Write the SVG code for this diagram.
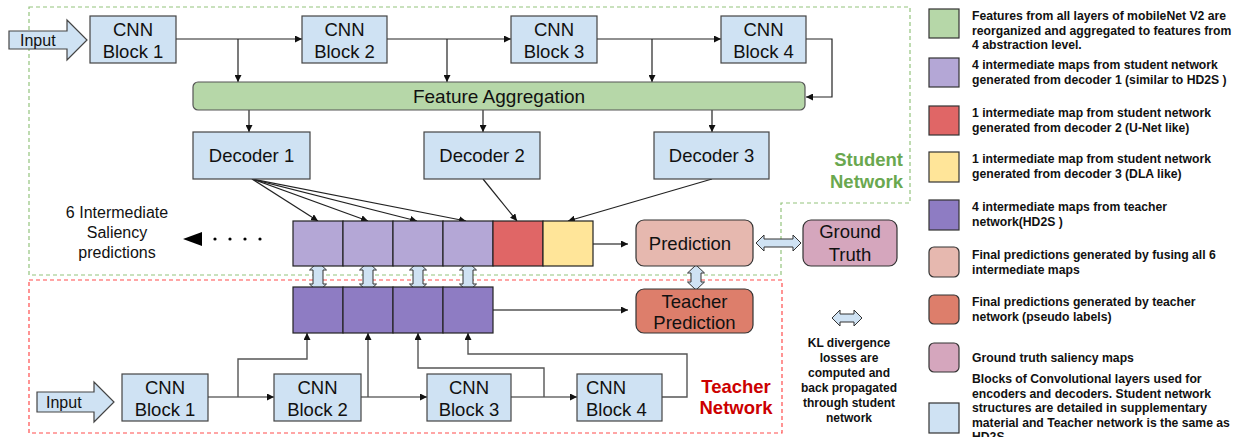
<svg xmlns="http://www.w3.org/2000/svg" width="1238" height="437" viewBox="0 0 1238 437">
<defs>
<style>
text{font-family:"Liberation Sans",Arial,sans-serif;fill:#111}
.lbl{font-size:18.5px;text-anchor:middle}
.blk{fill:#cfe2f3;stroke:#444;stroke-width:1.2}
.ln{fill:none;stroke:#222;stroke-width:1.2}
.gl{fill:none;stroke:#555;stroke-width:1.4}
.dbl{fill:#cfe2f3;stroke:#333;stroke-width:1}
.cell{stroke:#222;stroke-width:1.2}
.lg{font-size:12.2px;font-weight:bold}
.kl{font-size:12px;font-weight:bold;text-anchor:middle}
.sw{stroke:#333;stroke-width:1.2}
</style>
<marker id="ah" viewBox="0 0 8 8" refX="8" refY="4" markerWidth="7" markerHeight="7" markerUnits="userSpaceOnUse" orient="auto"><path d="M0,0 L8,4 L0,8 z" fill="#111"/></marker>
</defs>
<rect width="1238" height="437" fill="#fff"/>

<g id="regions">
<path d="M29,7 H910 V203 H781 V275 H29 Z" fill="none" stroke="#93c47d" stroke-width="1.2" stroke-dasharray="4,3"/>
<rect x="29" y="280" width="753" height="153" fill="none" stroke="#ff4d4d" stroke-width="1.2" stroke-dasharray="4,3"/>
<text x="903" y="166" font-size="18.5" font-weight="bold" text-anchor="end" style="fill:#6aa84f">Student</text>
<text x="903" y="188" font-size="18.5" font-weight="bold" text-anchor="end" style="fill:#6aa84f">Network</text>
<text x="736" y="393" font-size="18.5" font-weight="bold" text-anchor="middle" style="fill:#cc0000">Teacher</text>
<text x="736" y="414" font-size="18.5" font-weight="bold" text-anchor="middle" style="fill:#cc0000">Network</text>
</g>

<g id="connectors">
<line class="ln" x1="176" y1="39" x2="302" y2="39" marker-end="url(#ah)"/>
<line class="ln" x1="387" y1="39" x2="511" y2="39" marker-end="url(#ah)"/>
<line class="ln" x1="597" y1="39" x2="721" y2="39" marker-end="url(#ah)"/>
<line class="ln" x1="238" y1="39" x2="238" y2="82" marker-end="url(#ah)"/>
<line class="ln" x1="447" y1="39" x2="447" y2="82" marker-end="url(#ah)"/>
<line class="ln" x1="652" y1="39" x2="652" y2="82" marker-end="url(#ah)"/>
<path class="ln" d="M806,39 H832 V97 H806" marker-end="url(#ah)"/>
<line class="ln" x1="249" y1="110" x2="249" y2="132" marker-end="url(#ah)"/>
<line class="ln" x1="483" y1="110" x2="483" y2="132" marker-end="url(#ah)"/>
<line class="ln" x1="712" y1="110" x2="712" y2="132" marker-end="url(#ah)"/>
<line class="ln" x1="252" y1="179" x2="318" y2="221" marker-end="url(#ah)"/>
<line class="ln" x1="252" y1="179" x2="368" y2="221" marker-end="url(#ah)"/>
<line class="ln" x1="252" y1="179" x2="417" y2="221" marker-end="url(#ah)"/>
<line class="ln" x1="252" y1="179" x2="466" y2="221" marker-end="url(#ah)"/>
<line class="ln" x1="483" y1="179" x2="517" y2="221" marker-end="url(#ah)"/>
<line class="ln" x1="712" y1="179" x2="568" y2="221" marker-end="url(#ah)"/>
<line class="gl" x1="593" y1="244" x2="628" y2="244" marker-end="url(#ah)"/>
<line class="gl" x1="493" y1="310" x2="628" y2="310" marker-end="url(#ah)"/>
<polygon points="183,239 202,232 202,246" fill="#000"/>
<circle cx="215" cy="239" r="1.6" fill="#000"/>
<circle cx="230" cy="239" r="1.6" fill="#000"/>
<circle cx="245" cy="239" r="1.6" fill="#000"/>
<circle cx="260" cy="239" r="1.6" fill="#000"/>
<polygon class="dbl" points="318,262 326.5,270 323,270 323,284 326.5,284 318,292 309.5,284 313,284 313,270 309.5,270"/>
<polygon class="dbl" points="368,262 376.5,270 373,270 373,284 376.5,284 368,292 359.5,284 363,284 363,270 359.5,270"/>
<polygon class="dbl" points="418,262 426.5,270 423,270 423,284 426.5,284 418,292 409.5,284 413,284 413,270 409.5,270"/>
<polygon class="dbl" points="468,262 476.5,270 473,270 473,284 476.5,284 468,292 459.5,284 463,284 463,270 459.5,270"/>
<polygon class="dbl" points="696,265 704.5,273 701,273 701,282 704.5,282 696,290 687.5,282 691,282 691,273 687.5,273"/>
<polygon class="dbl" points="756,243 764,235 764,239 793,239 793,235 801,243 793,251 793,247 764,247 764,251"/>
<line class="ln" x1="208" y1="397" x2="274" y2="397" marker-end="url(#ah)"/>
<line class="ln" x1="361" y1="397" x2="427" y2="397" marker-end="url(#ah)"/>
<line class="ln" x1="511" y1="397" x2="577" y2="397" marker-end="url(#ah)"/>
<path class="gl" d="M238,397 V359 H307 V333" marker-end="url(#ah)"/>
<path class="gl" d="M368,397 V333" marker-end="url(#ah)"/>
<path class="gl" d="M544,397 V368 H418 V333" marker-end="url(#ah)"/>
<path class="gl" d="M662,397 H687 V354 H468 V333" marker-end="url(#ah)"/>
</g>

<g id="input-top">
<polygon class="blk" points="9,31 67,31 67,20 87,40 67,60 67,49 9,49"/>
<text x="20" y="46" font-size="16">Input</text>
</g>
<g id="cnn1-s"><rect class="blk" x="90" y="16" width="86" height="47"/><text class="lbl" x="133" y="36">CNN</text><text class="lbl" x="133" y="58">Block 1</text></g>
<g id="cnn2-s"><rect class="blk" x="302" y="16" width="85" height="47"/><text class="lbl" x="344.5" y="36">CNN</text><text class="lbl" x="344.5" y="58">Block 2</text></g>
<g id="cnn3-s"><rect class="blk" x="511" y="16" width="86" height="47"/><text class="lbl" x="554" y="36">CNN</text><text class="lbl" x="554" y="58">Block 3</text></g>
<g id="cnn4-s"><rect class="blk" x="721" y="16" width="85" height="47"/><text class="lbl" x="763.5" y="36">CNN</text><text class="lbl" x="763.5" y="58">Block 4</text></g>

<g id="feature-aggregation"><rect x="193" y="82" width="612" height="28" rx="5" fill="#b6d7a8" stroke="#555" stroke-width="1.2"/><text class="lbl" x="499" y="103" style="font-size:19px">Feature Aggregation</text></g>

<g id="decoder1"><rect class="blk" x="193" y="132" width="117" height="47"/><text class="lbl" x="251.5" y="162">Decoder 1</text></g>
<g id="decoder2"><rect class="blk" x="424" y="132" width="116" height="47"/><text class="lbl" x="482" y="162">Decoder 2</text></g>
<g id="decoder3"><rect class="blk" x="654" y="132" width="115" height="47"/><text class="lbl" x="711.5" y="162">Decoder 3</text></g>

<g id="saliency-label">
<text x="117" y="218" font-size="16" text-anchor="middle">6 Intermediate</text>
<text x="117" y="238" font-size="16" text-anchor="middle">Saliency</text>
<text x="117" y="258" font-size="16" text-anchor="middle">predictions</text>
</g>

<g id="student-maps">
<rect class="cell" x="293" y="221" width="50" height="45" fill="#b4a7d6"/>
<rect class="cell" x="343" y="221" width="50" height="45" fill="#b4a7d6"/>
<rect class="cell" x="393" y="221" width="50" height="45" fill="#b4a7d6"/>
<rect class="cell" x="443" y="221" width="50" height="45" fill="#b4a7d6"/>
<rect class="cell" x="493" y="221" width="50" height="45" fill="#e06666"/>
<rect class="cell" x="543" y="221" width="50" height="45" fill="#ffe599"/>
</g>

<g id="teacher-maps">
<rect class="cell" x="293" y="287" width="50" height="46" fill="#8e7cc3"/>
<rect class="cell" x="343" y="287" width="50" height="46" fill="#8e7cc3"/>
<rect class="cell" x="393" y="287" width="50" height="46" fill="#8e7cc3"/>
<rect class="cell" x="443" y="287" width="50" height="46" fill="#8e7cc3"/>
</g>

<g id="prediction"><rect x="636" y="220" width="117" height="46" rx="8" fill="#e6b8af" stroke="#333" stroke-width="1.2"/><text class="lbl" x="690" y="250">Prediction</text></g>
<g id="ground-truth"><rect x="803" y="220" width="94" height="46" rx="8" fill="#d5a6bd" stroke="#333" stroke-width="1.2"/><text class="lbl" x="850" y="238">Ground</text><text class="lbl" x="850" y="261">Truth</text></g>
<g id="teacher-prediction"><rect x="636" y="289" width="117" height="44" rx="8" fill="#dd7e6b" stroke="#333" stroke-width="1.2"/><text class="lbl" x="694.5" y="308">Teacher</text><text class="lbl" x="694.5" y="329">Prediction</text></g>

<g id="input-bottom">
<polygon class="blk" points="37,392 94,392 94,382 114,402 94,422 94,412 37,412"/>
<text x="46" y="408" font-size="16">Input</text>
</g>
<g id="cnn1-t"><rect class="blk" x="122" y="374" width="86" height="47"/><text class="lbl" x="165" y="394">CNN</text><text class="lbl" x="165" y="416">Block 1</text></g>
<g id="cnn2-t"><rect class="blk" x="274" y="374" width="87" height="47"/><text class="lbl" x="317.5" y="394">CNN</text><text class="lbl" x="317.5" y="416">Block 2</text></g>
<g id="cnn3-t"><rect class="blk" x="427" y="374" width="84" height="47"/><text class="lbl" x="469" y="394">CNN</text><text class="lbl" x="469" y="416">Block 3</text></g>
<g id="cnn4-t"><rect class="blk" x="577" y="374" width="85" height="47"/><text x="586" y="394" font-size="18.5">CNN</text><text x="586" y="416" font-size="18.5">Block 4</text></g>

<g id="kl-legend">
<polygon class="dbl" points="832,318 840,310 840,314 854,314 854,310 862,318 854,326 854,322 840,322 840,326"/>
<text class="kl" x="849" y="347">KL divergence</text>
<text class="kl" x="849" y="362">losses are</text>
<text class="kl" x="849" y="377">computed and</text>
<text class="kl" x="849" y="392">back propagated</text>
<text class="kl" x="849" y="407">through student</text>
<text class="kl" x="849" y="422">network</text>
</g>

<g id="legend">
<rect class="sw" x="929" y="9" width="30" height="29" fill="#b6d7a8"/>
<text class="lg" x="972" y="20">Features from all layers of mobileNet V2 are</text>
<text class="lg" x="972" y="34.5">reorganized and aggregated to features from</text>
<text class="lg" x="972" y="49">4 abstraction level.</text>
<rect class="sw" x="929" y="58" width="30" height="29" fill="#b4a7d6"/>
<text class="lg" x="972" y="69">4 intermediate maps from student network</text>
<text class="lg" x="972" y="84">generated from decoder 1 (similar to HD2S )</text>
<rect class="sw" x="929" y="106" width="30" height="29" fill="#e06666"/>
<text class="lg" x="972" y="117">1 intermediate map from student network</text>
<text class="lg" x="972" y="132">generated from decoder 2 (U-Net like)</text>
<rect class="sw" x="929" y="152" width="30" height="30" fill="#ffe599"/>
<text class="lg" x="972" y="163">1 intermediate map from student network</text>
<text class="lg" x="972" y="178">generated from decoder 3 (DLA like)</text>
<rect class="sw" x="929" y="200" width="30" height="30" fill="#8e7cc3"/>
<text class="lg" x="972" y="211">4 intermediate maps from teacher</text>
<text class="lg" x="972" y="226">network(HD2S )</text>
<rect class="sw" x="929" y="247" width="30" height="30" rx="5" fill="#e6b8af"/>
<text class="lg" x="972" y="259">Final predictions generated by fusing all 6</text>
<text class="lg" x="972" y="274">intermediate maps</text>
<rect class="sw" x="929" y="295" width="30" height="29" rx="5" fill="#dd7e6b"/>
<text class="lg" x="972" y="306">Final predictions generated by teacher</text>
<text class="lg" x="972" y="321">network (pseudo labels)</text>
<rect class="sw" x="929" y="343" width="30" height="29" rx="5" fill="#d5a6bd"/>
<text class="lg" x="972" y="362">Ground truth saliency maps</text>
<rect class="sw" x="929" y="403" width="30" height="30" fill="#cfe2f3"/>
<text class="lg" x="972" y="383">Blocks of Convolutional layers used for</text>
<text class="lg" x="972" y="397.5">encoders and decoders. Student network</text>
<text class="lg" x="972" y="412">structures are detailed in supplementary</text>
<text class="lg" x="972" y="426.5">material and Teacher network is the same as</text>
<text class="lg" x="972" y="441">HD2S</text>
</g>
</svg>
